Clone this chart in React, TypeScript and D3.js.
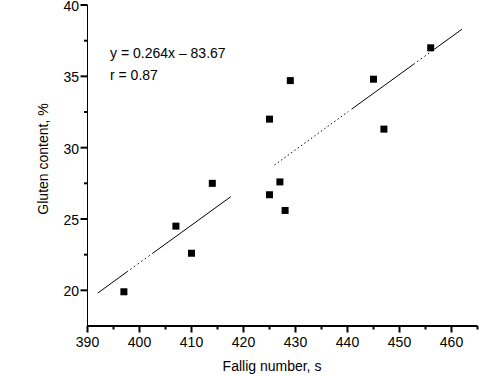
import React from "react";
import * as d3 from "d3";

const fallingNumber = [397, 407, 410, 414, 425, 425, 427, 428, 429, 445, 447, 456];
const glutenContent = [19.9, 24.5, 22.6, 27.5, 32.0, 26.7, 27.6, 25.6, 34.7, 34.8, 31.3, 37.0];
const xTicks = [390, 400, 410, 420, 430, 440, 450, 460];
const xMinorTicks = [395, 405, 415, 425, 435, 445, 455, 465];
const yTicks = [20, 25, 30, 35, 40];
const yMinorTicks = [22.5, 27.5, 32.5, 37.5];
const fitSlope = 0.264;
const fitIntercept = -83.67;
const fitRange = [392, 462];
const equationText = "y = 0.264x \u2013 83.67";
const rText = "r = 0.87";
const xTitle = "Fallig number, s";
const yTitle = "Gluten content, %";

const FONT = "'Liberation Sans Narrow', 'Arial Narrow', 'Liberation Sans', Arial, sans-serif";

// dash style imitating the broken regression line of the original picture
function dots(n: number, on: number, off: number) {
  const a: number[] = [];
  for (let i = 0; i < n; i++) a.push(on, off);
  return a;
}
const fitDash = [
  37, 3,
  ...dots(6, 1.5, 3),
  1, 0,
  96, 54,
  ...dots(22, 1.5, 2.6),
  1, 4,
  78, 3,
  ...dots(4, 1.5, 3),
  1, 2,
  40,
].join(" ");

export default function App() {
  const W = 490, H = 376;
  const x = d3.scaleLinear().domain([390, 465]).range([87.5, 477.5]);
  const y = d3.scaleLinear().domain([17.5, 40]).range([326, 5]);
  const line = d3.line<number>().x((d) => x(d)).y((d) => y(fitSlope * d + fitIntercept));
  const ms = 7;
  const y0 = y(17.5);
  const x0 = x(390);
  return (
    <svg width={W} height={H} style={{ position: "absolute", left: 0, top: 0, background: "#fff" }} fontFamily={FONT}>
      <rect width={W} height={H} fill="#fff" />
      {/* axes */}
      <line x1={x0 - 0.5} x2={x(465)} y1={y0} y2={y0} stroke="#000" strokeWidth={2} />
      <line x1={x0} x2={x0} y1={y0} y2={y(40)} stroke="#000" strokeWidth={1} />
      {xTicks.map((t) => (
        <g key={"xt" + t}>
          <line x1={x(t)} x2={x(t)} y1={y0} y2={y0 + 6.5} stroke="#000" strokeWidth={2} />
          <text x={x(t)} y={346.5} textAnchor="middle" fontSize={14}>{t}</text>
        </g>
      ))}
      {xMinorTicks.map((t) => (
        <line key={"xm" + t} x1={x(t)} x2={x(t)} y1={y0} y2={y0 + 3.5} stroke="#000" strokeWidth={2} />
      ))}
      {yTicks.map((t) => (
        <g key={"yt" + t}>
          <line x1={x0 - 7} x2={x0} y1={y(t)} y2={y(t)} stroke="#000" strokeWidth={2} />
          <text x={79} y={y(t) + 6} textAnchor="end" fontSize={14}>{t}</text>
        </g>
      ))}
      {yMinorTicks.map((t) => (
        <line key={"ym" + t} x1={x0 - 3.5} x2={x0} y1={y(t)} y2={y(t)} stroke="#000" strokeWidth={2} />
      ))}
      {/* fit line */}
      <path d={line(fitRange) || ""} fill="none" stroke="#000" strokeWidth={1} strokeDasharray={fitDash} />
      {/* points */}
      {fallingNumber.map((fn, i) => (
        <rect key={"p" + i} x={x(fn) - ms / 2} y={y(glutenContent[i]) - ms / 2} width={ms} height={ms} fill="#000" />
      ))}
      <text x={110} y={58} fontSize={14}>{equationText}</text>
      <text x={110} y={79.5} fontSize={14}>{rText}</text>
      <text x={272} y={370.5} textAnchor="middle" fontSize={14}>{xTitle}</text>
      <text transform={`translate(48,${159}) rotate(-90)`} textAnchor="middle" fontSize={14}>{yTitle}</text>
    </svg>
  );
}
